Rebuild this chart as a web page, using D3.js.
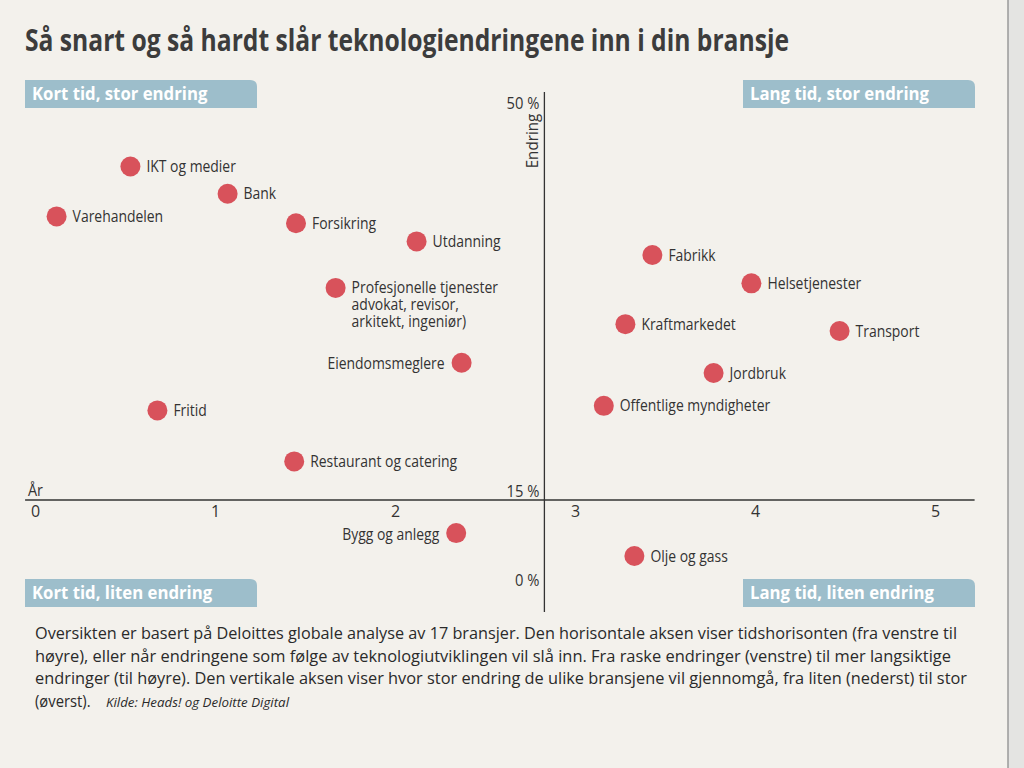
<!DOCTYPE html>
<html>
<head>
<meta charset="utf-8">
<script src="https://cdn.jsdelivr.net/npm/d3@7/dist/d3.min.js"></script>
<style>
  html, body { margin: 0; padding: 0; background: #f3f1ec; }
  svg { display: block; }
  text { font-family: "Open Sans", "Noto Sans", sans-serif; }
</style>
</head>
<body>
<svg id="chart" width="1024" height="768"></svg>
<script>
// ---------- data ----------
const categories = [
  "IKT og medier", "Bank", "Varehandelen", "Forsikring", "Utdanning",
  "Profesjonelle tjenester\nadvokat, revisor,\narkitekt, ingeniør)",
  "Eiendomsmeglere", "Fritid", "Restaurant og catering", "Bygg og anlegg",
  "Fabrikk", "Helsetjenester", "Kraftmarkedet", "Transport", "Jordbruk",
  "Offentlige myndigheter", "Olje og gass"
];
const years =   [0.53, 1.07, 0.12, 1.45, 2.12, 1.67, 2.37, 0.68, 1.44, 2.34,
                 3.43, 3.98, 3.28, 4.47, 3.77, 3.16, 3.33];
const changePct = [44.4, 42.0, 40.0, 39.4, 37.8, 33.7, 27.1, 22.9, 18.4, 8.8,
                 36.6, 34.1, 30.5, 29.9, 26.2, 23.3, 4.5];
const labelSide = ["r","r","r","r","r","r","l","r","r","l",
                   "r","r","r","r","r","r","r"];
const xTicks = [0, 1, 2, 3, 4, 5];
const yTickValues = [50, 15, 0];
const yTickLabels = ["50 %", "15 %", "0 %"];
const yAxisAtYear = 2.83;
const quadrantLabels = ["Kort tid, stor endring", "Lang tid, stor endring",
                        "Kort tid, liten endring", "Lang tid, liten endring"];
const title = "Så snart og så hardt slår teknologiendringene inn i din bransje";
const captionLines = [
  "Oversikten er basert på Deloittes globale analyse av 17 bransjer. Den horisontale aksen viser tidshorisonten (fra venstre til",
  "høyre), eller når  endringene som følge av teknologiutviklingen vil slå inn. Fra raske endringer (venstre) til mer langsiktige",
  "endringer (til høyre). Den vertikale aksen viser hvor stor endring de ulike bransjene vil gjennomgå, fra liten (nederst) til stor",
  "(øverst)."
];
const source = "Kilde: Heads! og Deloitte Digital";

// ---------- layout ----------
const svg = d3.select("#chart");
const ink = "#333333";

const x = d3.scaleLinear().domain([0, 5]).range([35, 935]);
const y = d3.scaleLinear().domain([0, 15, 50]).range([580, 500, 103]);

// page edge
svg.append("rect").attr("x", 1008).attr("y", 0).attr("width", 16).attr("height", 768).attr("fill", "#e4e4e2");
svg.append("line").attr("x1", 1008).attr("x2", 1008).attr("y1", 0).attr("y2", 768)
  .attr("stroke", "#9a9a9a").attr("stroke-width", 1.5);

// helpers: condense text horizontally
function condense(sel, factor) {
  sel.each(function() {
    const w = this.getComputedTextLength();
    d3.select(this).attr("textLength", w * factor).attr("lengthAdjust", "spacingAndGlyphs");
  });
}
function fitWidth(sel, width) {
  sel.attr("textLength", width).attr("lengthAdjust", "spacingAndGlyphs");
}

// title
svg.append("text").attr("x", 25).attr("y", 51)
  .attr("font-size", 31).attr("font-weight", 700).attr("fill", "#3c3c3c")
  .text(title).call(fitWidth, 764);

// quadrant boxes
const boxes = [
  {x: 25, y: 80, label: quadrantLabels[0]},
  {x: 743, y: 80, label: quadrantLabels[1]},
  {x: 25, y: 579, label: quadrantLabels[2]},
  {x: 743, y: 579, label: quadrantLabels[3]}
];
const bw = 232, bh = 28;
const bg = svg.append("g");
boxes.forEach(b => {
  const r = 7;
  const p = `M${b.x},${b.y} H${b.x + bw - r} Q${b.x + bw},${b.y} ${b.x + bw},${b.y + r} V${b.y + bh} H${b.x} Z`;
  bg.append("path").attr("d", p).attr("fill", "#9dbecb");
  bg.append("text").attr("x", b.x + 7).attr("y", b.y + 20)
    .attr("font-size", 18).attr("font-weight", 700).attr("fill", "#ffffff")
    .text(b.label).call(condense, 0.93);
});

// axes lines
const xAxisY = y(15);
svg.append("line")
  .attr("x1", x(-0.055)).attr("x2", x(5.22))
  .attr("y1", xAxisY).attr("y2", xAxisY)
  .attr("stroke", ink).attr("stroke-width", 1.3);
svg.append("line")
  .attr("x1", x(yAxisAtYear)).attr("x2", x(yAxisAtYear))
  .attr("y1", y(50) - 11).attr("y2", y(0) + 32)
  .attr("stroke", ink).attr("stroke-width", 1.3);

// x axis ticks via d3 axis
const xAxis = d3.axisBottom(x).tickValues(xTicks).tickSize(0).tickPadding(6)
  .tickFormat(d3.format("d"));
const gx = svg.append("g").attr("transform", `translate(0,${xAxisY})`).call(xAxis);
gx.select(".domain").remove();
gx.selectAll("text").attr("font-size", 16).attr("fill", ink)
  .attr("font-family", "'Open Sans', sans-serif");

// y tick labels
const yAxisX = x(yAxisAtYear);
const gy = svg.append("g");
yTickValues.forEach((v, i) => {
  gy.append("text")
    .attr("x", yAxisX - 5)
    .attr("y", y(v) + (v === 15 ? -9 : 0))
    .attr("dy", "0.35em")
    .attr("text-anchor", "end")
    .attr("font-size", 16).attr("fill", ink)
    .text(yTickLabels[i]).call(condense, 0.92);
});

// axis titles
svg.append("text")
  .attr("transform", `translate(${yAxisX - 6},${y(50) + 38}) rotate(-90)`)
  .attr("text-anchor", "middle").attr("font-size", 16).attr("fill", ink)
  .text("Endring").call(condense, 0.95);
svg.append("text").attr("x", x(0) - 7).attr("y", xAxisY - 4)
  .attr("font-size", 16).attr("fill", ink).text("År").call(condense, 0.9);

// points
const pts = categories.map((c, i) => ({name: c, yr: years[i], pct: changePct[i], side: labelSide[i]}));
const gp = svg.append("g");
gp.selectAll("circle").data(pts).join("circle")
  .attr("cx", d => x(d.yr)).attr("cy", d => y(d.pct)).attr("r", 10)
  .attr("fill", "#d8525b");

pts.forEach(d => {
  const lines = d.name.split("\n");
  const multi = lines.length > 1;
  const lx = d.side === "r" ? x(d.yr) + 16 : x(d.yr) - 17;
  lines.forEach((ln, j) => {
    gp.append("text")
      .attr("x", lx)
      .attr("y", y(d.pct) + j * 17 + (d.side === "l" ? 1 : 0))
      .attr("dy", "0.35em")
      .attr("text-anchor", d.side === "r" ? "start" : "end")
      .attr("font-size", multi ? 15.5 : 16).attr("fill", ink)
      .text(ln).call(condense, multi ? 0.9 : 0.87);
  });
});

// caption
const cap = svg.append("g");
const capWidths = [922, 916, 932];
captionLines.forEach((ln, i) => {
  const t = cap.append("text").attr("x", 35).attr("y", 639 + i * 22.5)
    .attr("font-size", 17).attr("fill", "#2a2a2a").text(ln);
  if (i < 3) t.call(fitWidth, capWidths[i]); else t.call(condense, 0.87);
});
const lastY = 639 + 3 * 22.5;
cap.append("text").attr("x", 106).attr("y", lastY)
  .attr("font-size", 13).attr("font-style", "italic").attr("fill", "#2a2a2a")
  .text(source).call(fitWidth, 183);
</script>
</body>
</html>
